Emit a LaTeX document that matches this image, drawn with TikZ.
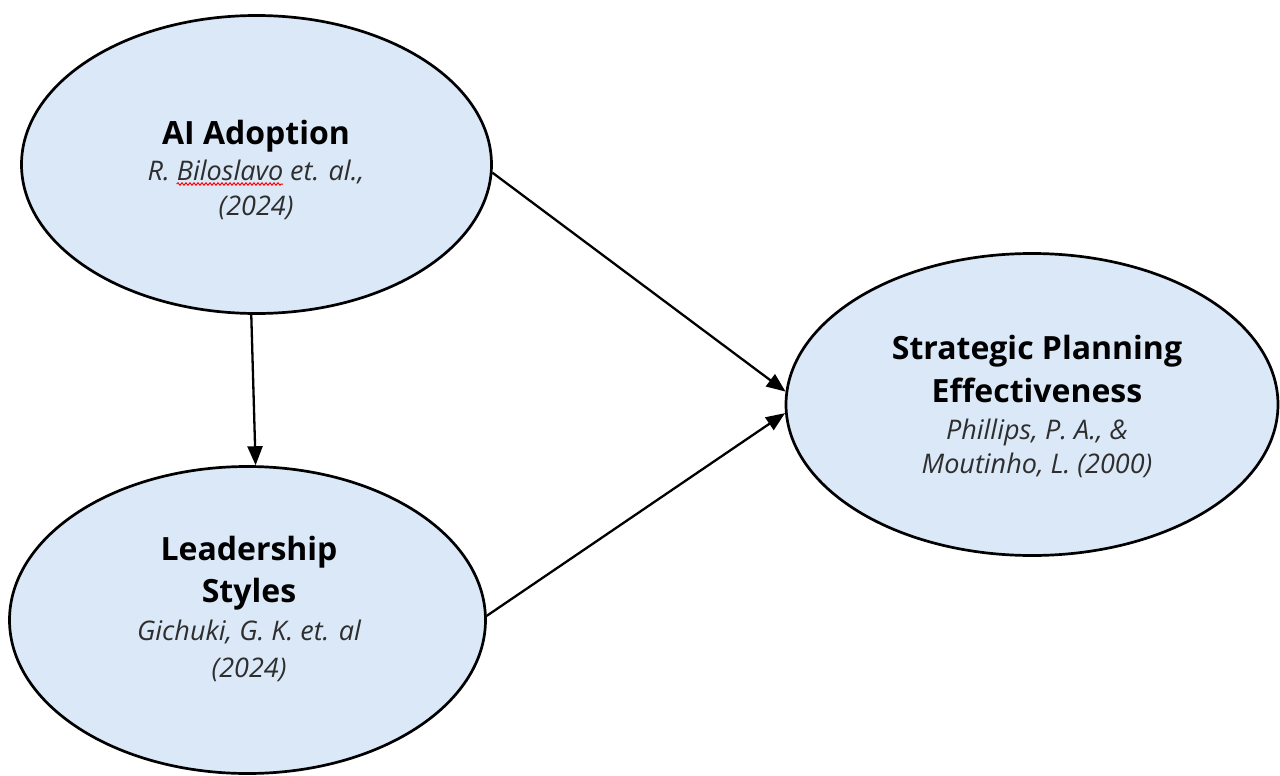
\documentclass[tikz,border=0pt]{standalone}
\usepackage{fontspec}
\setmainfont{Open Sans}
\usetikzlibrary{shapes.geometric,arrows.meta,decorations.pathmorphing}
\definecolor{bubble}{HTML}{DAE8F7}
\definecolor{citegray}{HTML}{2E2E2E}
\newcommand{\headfont}{\fontsize{32}{38}\selectfont\bfseries}
\newcommand{\citefont}{\fontsize{27}{30}\selectfont\itshape}
\newlength\preW
\newlength\biloW
\begin{document}
% widths used to place the squiggle under the author name
\settowidth\preW{\citefont R.\ }%
\settowidth\biloW{\citefont Biloslavo}%
\begin{tikzpicture}[x=1pt,y=-1pt,
  bubble/.style={ellipse,draw=black,line width=2.7pt,fill=bubble,inner sep=0pt},
  head/.style={anchor=base,inner sep=0pt,font=\headfont,text=black},
  cite/.style={anchor=base,inner sep=0pt,font=\citefont,text=citegray},
  link/.style={line width=2.3pt,-{Triangle[length=19pt,width=15pt]}},
  squiggle/.style={draw=red,line width=1pt,decorate,
    decoration={snake,amplitude=1.2pt,segment length=4pt}}]
  \useasboundingbox (0,0) rectangle (1280,776);

  % the three constructs
  \node[bubble,minimum width=470pt,minimum height=298pt] (ai) at (256.5,164.5) {};
  \node[bubble,minimum width=476pt,minimum height=307pt] (ls) at (247.5,620) {};
  \node[bubble,minimum width=492pt,minimum height=302pt] (sp) at (1032,404.5) {};

  % labels
  \node[head] (aiT) at (256,144) {AI Adoption};
  \node[cite] (aiC1) at (256,180) {R. Biloslavo et. al.,};
  \node[cite] (aiC2) at (256,215) {(2024)};
  \coordinate (sqA) at ([xshift=\preW,yshift=-4pt]aiC1.base west);
  \coordinate (sqB) at ([xshift=\preW+\biloW,yshift=-4pt]aiC1.base west);
  \path[squiggle] (sqA) -- (sqB);

  \node[head] (lsT1) at (249,560) {Leadership};
  \node[head] (lsT2) at (249,602) {Styles};
  \node[cite] (lsC1) at (249,640) {Gichuki, G. K. et. al};
  \node[cite] (lsC2) at (249,677) {(2024)};

  \node[head] (spT1) at (1037,359) {Strategic Planning};
  \node[head] (spT2) at (1037,402) {Effectiveness};
  \node[cite] (spC1) at (1037,439) {Phillips, P. A., \&};
  \node[cite] (spC2) at (1037,473) {Moutinho, L. (2000)};

  % relationships
  \draw[link] (ai.268) -- (ls.87);
  \draw[link] (ai.358) -- (sp.177);
  \draw[link] (ls.1) -- (sp.182);
\end{tikzpicture}
\end{document}
